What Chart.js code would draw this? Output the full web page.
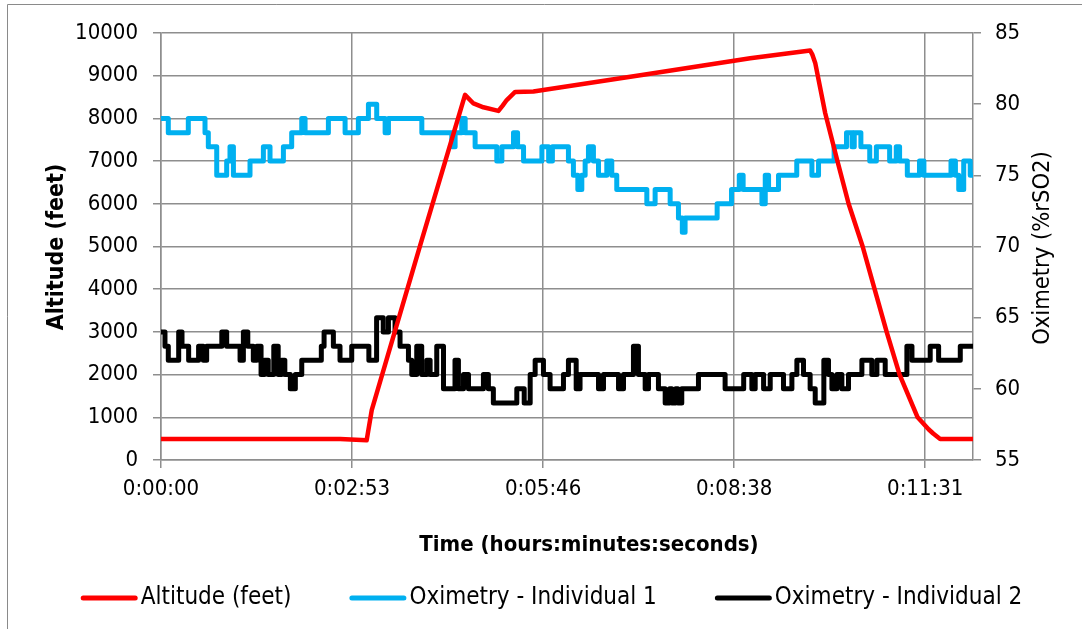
<!DOCTYPE html>
<html>
<head>
<meta charset="utf-8">
<script src="https://cdn.jsdelivr.net/npm/chart.js@4.4.1/dist/chart.umd.min.js"></script>
<style>
  html, body { margin: 0; padding: 0; background: #ffffff; }
  #wrap { width: 1082px; height: 629px; }
</style>
</head>
<body>
<div id="wrap"><canvas id="chart" width="1082" height="629"></canvas></div>
<script>
// Time axis (seconds from start) and its labels
const timeTickSeconds = [0, 172.8, 345.6, 518.4, 691.2];
const timeTickLabels = ['0:00:00', '0:02:53', '0:05:46', '0:08:38', '0:11:31'];
const timeMaxSeconds = 734.4;

// Chamber altitude profile
const altitudeSeconds = [0, 162, 186, 190.6, 235.8, 275, 282.6, 291.6, 305.2, 309, 312.7, 320.3, 336.8,
  434.9, 532.9, 587.1, 589, 591.7, 600.7, 611.3, 621.9, 634.6, 645.4, 656.3, 668.0, 684.3, 694.2, 698.4, 704.7, 734.4];
const altitudeFeet = [490, 490, 460, 1170, 5150, 8550, 8350, 8260, 8175, 8300, 8430, 8620, 8630,
  9016, 9407, 9590, 9500, 9300, 8126, 7050, 6000, 5000, 4000, 3000, 2000, 1000, 720, 620, 490, 490];

// Oximetry, individual 1 (value holds from each time until the next)
const oxi1Seconds = [0, 6.6, 24.7, 39.8, 42.8, 50.4, 59.4, 62.4, 65.5, 80.5, 92.6, 98.6, 110.7, 118.2, 127.3,
  130.3, 151.4, 166.5, 178.5, 187.6, 195.1, 202.7, 205.7, 235.9, 263.0, 266.0, 272.0, 275.1, 284.1, 303.7,
  308.3, 318.8, 322.5, 327.9, 344.5, 350.6, 354.0, 368.5, 373.0, 377.0, 380.6, 383.6, 386.6, 391.1, 395.7,
  403.2, 407.7, 412.2, 439.4, 446.9, 460.5, 468.0, 471.5, 474.0, 503.0, 516.0, 523.0, 526.5, 543.5, 546.5,
  549.5, 558.5, 575.0, 588.7, 594.7, 608.8, 620.0, 625.0, 627.0, 633.0, 641.0, 647.0, 659.0, 665.0, 668.0,
  675.0, 686.0, 690.0, 714.5, 718.5, 721.5, 726.0, 731.9, 734.4];
const oxi1Values = [79, 78, 79, 78, 77, 75, 76, 77, 75, 76, 77, 76, 77, 78, 79,
  78, 79, 78, 79, 80, 79, 78, 79, 78, 77, 78, 79, 78, 77, 76,
  77, 78, 77, 76, 77, 76, 77, 76, 75, 74, 75, 76, 77, 76, 75,
  76, 75, 74, 73, 74, 73, 72, 71, 72, 73, 74, 75, 74, 73, 75,
  74, 75, 76, 75, 76, 77, 78, 77, 78, 77, 76, 77, 76, 77, 76,
  75, 76, 75, 76, 75, 74, 76, 75, 75];

// Oximetry, individual 2
const oxi2Seconds = [0, 3.6, 6.6, 16.0, 19.0, 25.0, 34.0, 38.3, 41.3, 55.0, 59.4, 71.5, 74.5, 78.5, 83.5,
  86.6, 90.5, 93.5, 97.0, 102.0, 106.0, 109.0, 112.0, 117.0, 121.5, 127.3, 145.0, 147.5, 155.9, 161.9,
  172.5, 188.0, 195.0, 201.0, 205.7, 211.7, 216.2, 223.8, 226.8, 231.3, 235.8, 240.4, 243.4, 249.4, 255.5,
  265.9, 269.0, 273.6, 278.1, 291.6, 296.1, 300.6, 321.8, 328.5, 333.9, 338.4, 345.9, 351.9, 364.0, 368.5,
  375.5, 379.0, 395.7, 400.2, 413.8, 418.3, 427.3, 431.8, 437.9, 440.9, 449.9, 456.0, 460.0, 462.0, 465.5,
  467.5, 471.0, 486.1, 510.2, 527.0, 534.4, 537.4, 545.0, 551.0, 563.0, 570.6, 575.1, 581.1, 587.1, 591.7,
  599.5, 603.7, 606.8, 611.3, 615.8, 621.8, 633.9, 642.9, 647.5, 655.0, 674.6, 679.2, 695.7, 703.3, 722.9, 734.4];
const oxi2Values = [64, 63, 62, 64, 63, 62, 63, 62, 63, 64, 63, 62, 64, 63, 62,
  63, 61, 62, 61, 63, 61, 62, 61, 60, 61, 62, 63, 64, 63, 62,
  63, 62, 65, 64, 65, 64, 63, 62, 61, 63, 61, 62, 61, 63, 60,
  62, 60, 61, 60, 61, 60, 59, 60, 59, 61, 62, 61, 60, 61, 62,
  60, 61, 60, 61, 60, 61, 63, 61, 60, 61, 60, 59, 60, 59, 60,
  59, 60, 61, 60, 61, 60, 61, 60, 61, 60, 61, 62, 61, 60, 59,
  62, 61, 60, 61, 60, 61, 62, 61, 62, 61, 63, 62, 63, 62, 63, 63];

const FONT = "'DejaVu Sans Condensed', 'DejaVu Sans', sans-serif";
const GRID = '#8e8e8e';

const toPoints = (xs, ys) => xs.map((x, i) => ({ x: x, y: ys[i] }));

// Outer frame, axis titles and legend
const decorations = {
  id: 'decorations',
  beforeDraw(chart) {
    const c = chart.ctx;
    c.save();
    c.strokeStyle = '#8a8a8a';
    c.lineWidth = 1;
    c.beginPath();
    c.moveTo(7.5, chart.height);
    c.lineTo(7.5, 4.5);
    c.lineTo(chart.width, 4.5);
    c.stroke();
    c.restore();
  },
  afterDraw(chart) {
    const c = chart.ctx;
    c.save();
    c.fillStyle = '#000';
    c.textAlign = 'center';
    c.textBaseline = 'middle';

    c.font = "bold 22px " + FONT;
    c.fillText('Time (hours:minutes:seconds)', 589, 545);

    c.font = "bold 23px " + FONT;
    c.save();
    c.translate(57, 247);
    c.rotate(-Math.PI / 2);
    c.fillText('Altitude (feet)', 0, 0);
    c.restore();

    c.font = "23.5px " + FONT;
    c.save();
    c.translate(1043, 248);
    c.rotate(-Math.PI / 2);
    c.fillText('Oximetry (%rSO2)', 0, 0);
    c.restore();

    // legend
    const sample = 57, gapText = 3, gapItem = 58, ly = 598;
    c.font = "24px " + FONT;
    const items = chart.data.datasets.map(ds => ({
      text: ds.label, color: ds.borderColor, w: c.measureText(ds.label).width
    }));
    let total = items.reduce((s, it) => s + sample + gapText + it.w, 0) + gapItem * (items.length - 1);
    let x = 551.5 - total / 2;
    items.forEach(it => {
      c.strokeStyle = it.color;
      c.lineWidth = 5;
      c.lineCap = 'round';
      c.beginPath();
      c.moveTo(x + 2.5, ly);
      c.lineTo(x + sample - 2.5, ly);
      c.stroke();
      c.textAlign = 'left';
      c.fillStyle = '#000';
      c.fillText(it.text, x + sample + gapText, ly);
      x += sample + gapText + it.w + gapItem;
    });
    c.restore();
  }
};

new Chart(document.getElementById('chart'), {
  type: 'line',
  data: {
    datasets: [
      {
        label: 'Altitude (feet)',
        data: toPoints(altitudeSeconds, altitudeFeet),
        borderColor: '#ff0000',
        backgroundColor: '#ff0000',
        borderWidth: 4.5,
        tension: 0,
        pointRadius: 0,
        borderCapStyle: 'round',
        borderJoinStyle: 'round',
        yAxisID: 'y'
      },
      {
        label: 'Oximetry - Individual 1',
        data: toPoints(oxi1Seconds, oxi1Values),
        borderColor: '#00b0f0',
        backgroundColor: '#00b0f0',
        borderWidth: 5,
        stepped: true,
        pointRadius: 0,
        borderCapStyle: 'round',
        borderJoinStyle: 'round',
        yAxisID: 'y1'
      },
      {
        label: 'Oximetry - Individual 2',
        data: toPoints(oxi2Seconds, oxi2Values),
        borderColor: '#000000',
        backgroundColor: '#000000',
        borderWidth: 5,
        stepped: true,
        pointRadius: 0,
        borderCapStyle: 'round',
        borderJoinStyle: 'round',
        yAxisID: 'y1'
      }
    ]
  },
  options: {
    responsive: false,
    animation: false,
    events: [],
    layout: { padding: { top: 33, left: 0, right: 0, bottom: 0 } },
    plugins: {
      legend: { display: false },
      tooltip: { enabled: false }
    },
    scales: {
      x: {
        type: 'linear',
        min: 0,
        max: timeMaxSeconds,
        afterBuildTicks: s => { s.ticks = timeTickSeconds.map(v => ({ value: v })); },
        afterFit: s => { s.height = 169; s.paddingLeft = 0; s.paddingRight = 0; },
        ticks: {
          autoSkip: false,
          maxRotation: 0,
          padding: 8,
          color: '#000',
          font: { family: FONT, size: 22 },
          callback: v => timeTickLabels[timeTickSeconds.indexOf(v)]
        },
        grid: { color: GRID, lineWidth: 1.5, tickLength: 8 },
        border: { color: GRID, width: 1.5 }
      },
      y: {
        position: 'left',
        min: 0,
        max: 10000,
        afterFit: s => { s.width = 161; s.paddingTop = 0; s.paddingBottom = 0; },
        ticks: {
          stepSize: 1000,
          padding: 15,
          color: '#000',
          font: { family: FONT, size: 22 },
          callback: v => String(v)
        },
        grid: { color: GRID, lineWidth: 1.5, tickLength: 8 },
        border: { color: GRID, width: 1.5 }
      },
      y1: {
        position: 'right',
        min: 55,
        max: 85,
        afterFit: s => { s.width = 109; s.paddingTop = 0; s.paddingBottom = 0; },
        ticks: {
          stepSize: 5,
          padding: 14,
          color: '#000',
          font: { family: FONT, size: 22 },
          callback: v => String(v)
        },
        grid: { drawOnChartArea: false, color: GRID, lineWidth: 1.5, tickLength: 8 },
        border: { color: GRID, width: 1.5 }
      }
    }
  },
  plugins: [decorations]
});
</script>
</body>
</html>
